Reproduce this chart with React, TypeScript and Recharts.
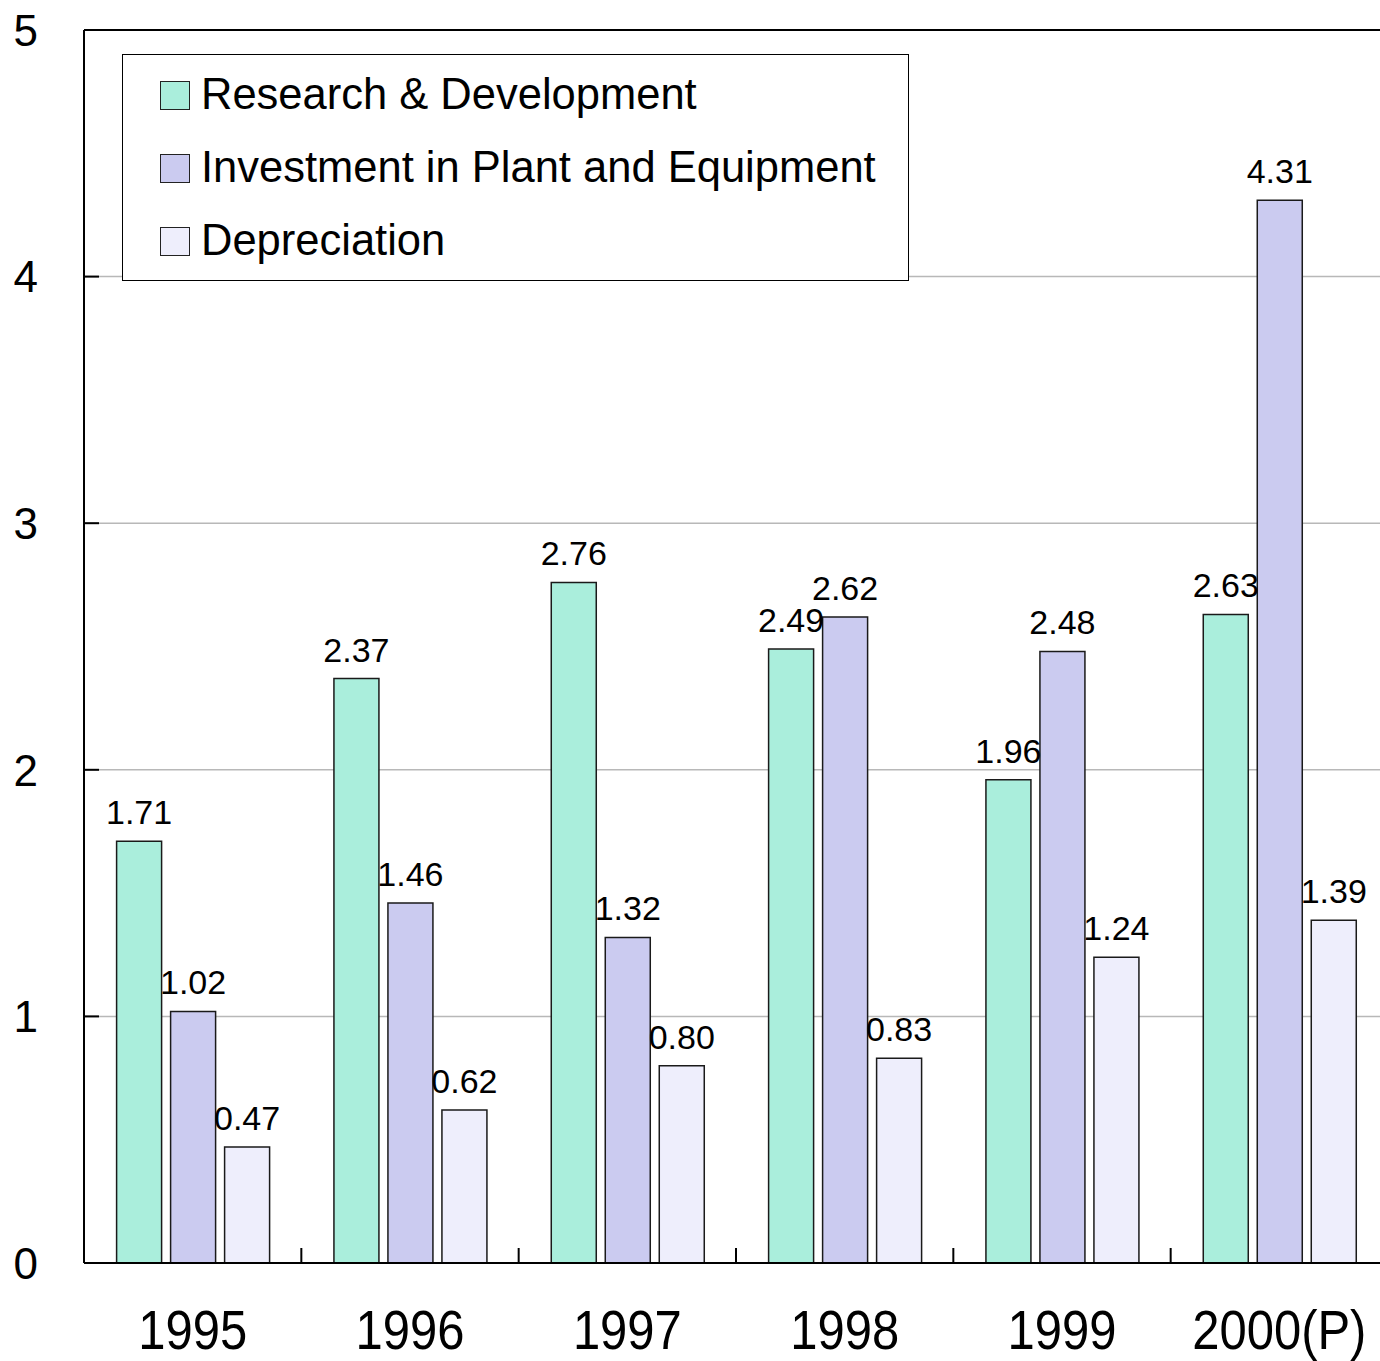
import { BarChart, Bar, XAxis, YAxis, CartesianGrid, Legend, LabelList, ReferenceLine } from "recharts";

const years = ["1995", "1996", "1997", "1998", "1999", "2000(P)"];
const researchDev = [1.71, 2.37, 2.76, 2.49, 1.96, 2.63];
const plantEquip = [1.02, 1.46, 1.32, 2.62, 2.48, 4.31];
const depreciation = [0.47, 0.62, 0.8, 0.83, 1.24, 1.39];
const yTicks = [0, 1, 2, 3, 4, 5];

const series = [
  { key: "rd", name: "Research & Development", color: "#aaeedc" },
  { key: "ipe", name: "Investment in Plant and Equipment", color: "#cbcbf0" },
  { key: "dep", name: "Depreciation", color: "#eeeefc" },
];

const data = years.map((year, i) => ({
  year,
  rd: researchDev[i],
  ipe: plantEquip[i],
  dep: depreciation[i],
}));

const FONT = "'Liberation Sans', Arial, sans-serif";
const CHART_W = 1388;
const CHART_H = 1361;
const LEFT = 84;
const TOP = 30;
const X_AXIS_H = 98;
const AXIS_Y = CHART_H - X_AXIS_H;
const BAND = (CHART_W - LEFT) / years.length;

// category label centred, with a small boundary tick pointing up (Excel style)
function XTick(props: any) {
  const { x, payload } = props;
  const cx = payload.coordinate ?? x;
  return (
    <g>
      <line x1={cx - BAND / 2} x2={cx - BAND / 2} y1={AXIS_Y} y2={AXIS_Y - 15} stroke="#000" strokeWidth={2} />
      <text
        transform={`translate(${cx},${AXIS_Y + 86}) scale(0.89,1)`}
        textAnchor="middle"
        fontFamily={FONT}
        fontSize={55}
        fill="#000"
      >
        {payload.value}
      </text>
    </g>
  );
}

// value label on the left, inner tick pointing into the plot
function YTick(props: any) {
  const { y, payload } = props;
  const cy = payload.coordinate ?? y;
  return (
    <g>
      <line x1={LEFT} x2={LEFT + 15} y1={cy} y2={cy} stroke="#000" strokeWidth={2} />
      <text x={38} y={cy} dy="0.36em" textAnchor="end" fontFamily={FONT} fontSize={44} fill="#000">
        {payload.value}
      </text>
    </g>
  );
}

function LegendBox() {
  return (
    <div
      style={{
        position: "relative",
        width: 787,
        height: 227,
        boxSizing: "border-box",
        border: "1.5px solid #000",
        background: "#fff",
        fontFamily: FONT,
      }}
    >
      {series.map((s, i) => (
        <div
          key={s.key}
          style={{
            position: "absolute",
            left: 37,
            top: 39 + i * 73 - 25,
            height: 50,
            display: "flex",
            alignItems: "center",
            whiteSpace: "nowrap",
          }}
        >
          <div
            style={{
              width: 30,
              height: 29,
              boxSizing: "border-box",
              border: "1.5px solid #222",
              background: s.color,
              marginRight: 11,
              marginTop: 3,
            }}
          />
          <span style={{ fontSize: 43.5, color: "#000", lineHeight: "50px" }}>{s.name}</span>
        </div>
      ))}
    </div>
  );
}

export default function App() {
  return (
    <div
      style={{
        position: "absolute",
        left: 0,
        top: 0,
        width: 1380,
        height: 1361,
        overflow: "hidden",
        background: "#fff",
      }}
    >
      <BarChart
        width={CHART_W}
        height={CHART_H}
        data={data}
        margin={{ top: TOP, right: 0, bottom: 0, left: 0 }}
        barCategoryGap="15%"
        barGap={9}
      >
        <CartesianGrid vertical={false} stroke="#b8b8b8" strokeWidth={1.5} />
        <XAxis
          dataKey="year"
          height={X_AXIS_H}
          tick={<XTick />}
          tickLine={false}
          axisLine={{ stroke: "#000", strokeWidth: 2 }}
          interval={0}
        />
        <YAxis
          domain={[0, 5]}
          ticks={yTicks}
          width={LEFT}
          tick={<YTick />}
          tickLine={false}
          axisLine={{ stroke: "#000", strokeWidth: 2 }}
          interval={0}
        />
        <ReferenceLine y={5} stroke="#000" strokeWidth={2} />
        <Legend
          layout="vertical"
          align="center"
          verticalAlign="middle"
          content={<LegendBox />}
          wrapperStyle={{ left: 122, top: 54, width: 787, height: 227 }}
        />
        {series.map((s) => (
          <Bar
            key={s.key}
            dataKey={s.key}
            name={s.name}
            fill={s.color}
            stroke="#1a1a1a"
            strokeWidth={1.5}
            isAnimationActive={false}
          >
            <LabelList
              dataKey={s.key}
              position="top"
              offset={17}
              formatter={(v: any) => Number(v).toFixed(2)}
              fill="#000"
              fontFamily={FONT}
              fontSize={34}
            />
          </Bar>
        ))}
      </BarChart>
    </div>
  );
}
